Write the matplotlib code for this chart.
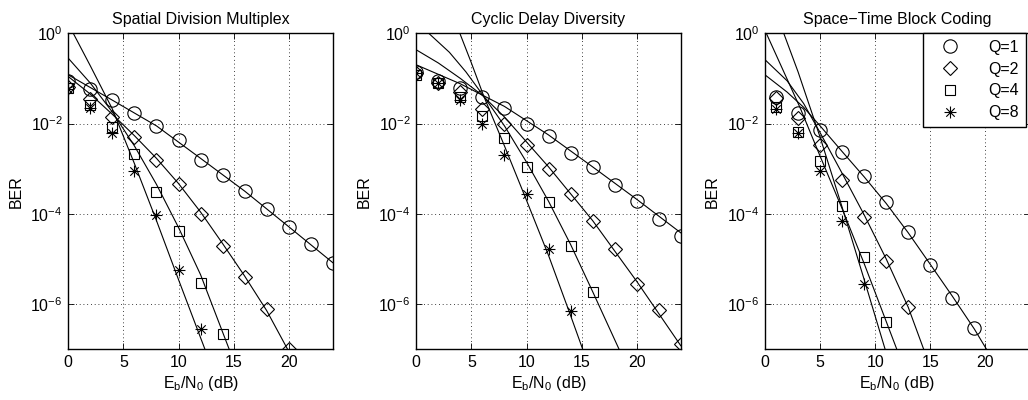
import matplotlib
matplotlib.use("Agg")
import matplotlib.pyplot as plt
from matplotlib.path import Path

plt.rcParams['font.family'] = ['Liberation Sans', 'DejaVu Sans']
plt.rcParams['mathtext.fontset'] = 'custom'
plt.rcParams['mathtext.rm'] = 'Liberation Sans'
plt.rcParams['mathtext.default'] = 'regular'
plt.rcParams['font.size'] = 11.5

titles = ["Spatial Division Multiplex", "Cyclic Delay Diversity", "Space\u2212Time Block Coding"]
labels = ["Q=1", "Q=2", "Q=4", "Q=8"]

# simulated points (markers)
sdm_snr = [0, 2, 4, 6, 8, 10, 12, 14, 16, 18, 20, 22, 24]
sdm_q1 = [8.7e-2, 5.8e-2, 3.3e-2, 1.7e-2, 8.9e-3, 4.3e-3, 1.6e-3, 7.4e-4, 3.2e-4, 1.3e-4, 5.2e-5, 2.1e-5, 8.3e-6]
sdm_q2 = [6.6e-2, 3.5e-2, 1.4e-2, 5.0e-3, 1.6e-3, 4.7e-4, 1.0e-4, 1.9e-5, 3.9e-6, 7.8e-7, 1.0e-7]
sdm_q4 = [6.0e-2, 2.6e-2, 8.5e-3, 2.1e-3, 3.1e-4, 4.1e-5, 3.0e-6, 2.2e-7]
sdm_q8 = [5.8e-2, 2.2e-2, 6.3e-3, 9.1e-4, 9.3e-5, 5.8e-6, 2.8e-7]

cdd_snr = [0, 2, 4, 6, 8, 10, 12, 14, 16, 18, 20, 22, 24]
cdd_q1 = [1.4e-1, 8.7e-2, 6.0e-2, 3.8e-2, 2.2e-2, 1.0e-2, 5.2e-3, 2.2e-3, 1.1e-3, 4.4e-4, 1.9e-4, 7.8e-5, 3.2e-5]
cdd_q2 = [1.3e-1, 7.8e-2, 5.0e-2, 2.1e-2, 1.0e-2, 3.4e-3, 1.0e-3, 2.7e-4, 7.1e-5, 1.7e-5, 2.8e-6, 7.4e-7, 1.3e-7]
cdd_q4 = [1.2e-1, 7.9e-2, 3.9e-2, 1.5e-2, 4.7e-3, 1.1e-3, 1.8e-4, 1.9e-5, 1.9e-6]
cdd_q8 = [1.3e-1, 7.8e-2, 3.3e-2, 1.0e-2, 2.0e-3, 2.8e-4, 1.7e-5, 7.1e-7]

stbc_snr = [1, 3, 5, 7, 9, 11, 13, 15, 17, 19]
stbc_q1 = [3.9e-2, 1.7e-2, 7.1e-3, 2.3e-3, 6.9e-4, 1.8e-4, 3.9e-5, 7.4e-6, 1.4e-6, 2.9e-7]
stbc_q2 = [3.6e-2, 1.3e-2, 3.3e-3, 5.5e-4, 8.5e-5, 9.1e-6, 8.7e-7]
stbc_q4 = [2.3e-2, 6.5e-3, 1.5e-3, 1.5e-4, 1.1e-5, 4.1e-7]
stbc_q8 = [2.1e-2, 6.2e-3, 9.1e-4, 7.1e-5, 2.8e-6]

# analytical curves (solid lines)
sdm_c1_x = [0, 4, 8, 12, 16, 20, 24]
sdm_c1 = [1.2e-1, 3.3e-2, 8.9e-3, 1.7e-3, 3.2e-4, 5.2e-5, 8.3e-6]
sdm_c2_x = [0, 2, 4, 6, 8, 10, 12, 14, 16, 18, 19.9]
sdm_c2 = [1.1e-1, 4.5e-2, 1.6e-2, 5.4e-3, 1.7e-3, 4.7e-4, 1.1e-4, 2.2e-5, 4.2e-6, 7.2e-7, 1.0e-7]
sdm_c4_x = [0, 2, 4, 6, 8, 10, 12, 14.6]
sdm_c4 = [2.8e-1, 7.9e-2, 1.8e-2, 3.2e-3, 4.5e-4, 5.0e-5, 4.5e-6, 1.0e-7]
sdm_c8_x = [0.45, 2, 4, 6, 8, 10, 12.4]
sdm_c8 = [1.0, 1.9e-1, 2.1e-2, 1.3e-3, 7.1e-5, 3.5e-6, 1.0e-7]

cdd_c1_x = [0, 4, 8, 12, 16, 20, 24]
cdd_c1 = [2.0e-1, 7.6e-2, 2.4e-2, 5.6e-3, 1.1e-3, 2.1e-4, 3.8e-5]
cdd_c2_x = [0, 2, 4, 6, 8, 12, 16, 20, 24]
cdd_c2 = [4.3e-1, 2.2e-1, 1.0e-1, 4.2e-2, 1.4e-2, 1.1e-3, 7.1e-5, 3.2e-6, 1.2e-7]
cdd_c4_x = [1.13, 3, 4.5, 6.13, 8, 10, 12, 14, 16, 18.4]
cdd_c4 = [1.0, 3.8e-1, 1.4e-1, 4.0e-2, 8.9e-3, 1.4e-3, 1.9e-4, 2.1e-5, 1.9e-6, 1.0e-7]
cdd_c8_x = [3.95, 5, 6.13, 8, 10, 12, 14, 15.1]
cdd_c8 = [1.0, 2.2e-1, 4.0e-2, 3.2e-3, 2.0e-4, 1.2e-5, 5.6e-7, 1.0e-7]

stbc_c1_x = [0, 2, 3.5, 5, 7, 9, 11, 13, 15, 17, 19, 20.1]
stbc_c1 = [1.2e-1, 5.0e-2, 2.3e-2, 8.9e-3, 2.4e-3, 6.6e-4, 1.7e-4, 3.8e-5, 7.6e-6, 1.5e-6, 2.8e-7, 1.0e-7]
stbc_c2_x = [0, 2, 3.5, 5, 7, 9, 11, 13, 14.4]
stbc_c2 = [2.6e-1, 8.9e-2, 2.8e-2, 6.3e-3, 7.9e-4, 9.5e-5, 1.0e-5, 8.5e-7, 1.0e-7]
stbc_c4_x = [0.12, 3.2, 5, 7, 9, 11.96]
stbc_c4 = [1.0, 2.2e-2, 1.9e-3, 1.3e-4, 7.9e-6, 1.0e-7]
stbc_c8_x = [1.7, 3, 5, 7, 9, 10.9]
stbc_c8 = [1.0, 1.4e-1, 5.0e-3, 1.4e-4, 3.5e-6, 1.0e-7]

# matlab style asterisk
star = Path([(-1, 0), (1, 0), (0, -1), (0, 1),
             (-0.707, -0.707), (0.707, 0.707), (-0.707, 0.707), (0.707, -0.707)],
            [Path.MOVETO, Path.LINETO] * 4)
markers = [('o', 9.6), ('D', 6.8), ('s', 7.6), (star, 8.6)]

panels = [
    (sdm_snr, [sdm_q1, sdm_q2, sdm_q4, sdm_q8],
     [(sdm_c1_x, sdm_c1), (sdm_c2_x, sdm_c2), (sdm_c4_x, sdm_c4), (sdm_c8_x, sdm_c8)]),
    (cdd_snr, [cdd_q1, cdd_q2, cdd_q4, cdd_q8],
     [(cdd_c1_x, cdd_c1), (cdd_c2_x, cdd_c2), (cdd_c4_x, cdd_c4), (cdd_c8_x, cdd_c8)]),
    (stbc_snr, [stbc_q1, stbc_q2, stbc_q4, stbc_q8],
     [(stbc_c1_x, stbc_c1), (stbc_c2_x, stbc_c2), (stbc_c4_x, stbc_c4), (stbc_c8_x, stbc_c8)]),
]

fig = plt.figure(figsize=(10.28, 4), dpi=100)
lefts = [68.3, 416.3, 765.0]

for i, (snr, pts, curves) in enumerate(panels):
    ax = fig.add_axes([lefts[i] / 1028, 50.7 / 400, 264.5 / 1028, 316 / 400])
    handles = []
    for (m, ms), y in zip(markers, pts):
        h, = ax.semilogy(snr[:len(y)], y, linestyle='none', marker=m, ms=ms,
                         mfc='none', mec='k', mew=0.8)
        handles.append(h)
    for cx, cy in curves:
        ax.semilogy(cx, cy, color='k', lw=0.8)
    ax.set_xlim(0, 24)
    ax.set_ylim(1e-7, 1)
    ax.set_xticks([0, 5, 10, 15, 20])
    ax.set_yticks([1, 1e-2, 1e-4, 1e-6])
    ax.minorticks_off()
    ax.tick_params(direction='in', top=True, right=True, length=4, width=0.6,
                   labelsize=11.5, pad=4)
    ax.grid(True, color='k', linestyle=(0, (1, 3.5)), lw=0.6)
    for s in ax.spines.values():
        s.set_linewidth(1.0)
    ax.set_title(titles[i], fontsize=11.5, pad=7)
    ax.set_ylabel('BER', fontsize=11.5, labelpad=5)
    ax.set_xlabel('E$_b$/N$_0$ (dB)', fontsize=11.5, labelpad=3)
    if i == 2:
        leg = ax.legend(handles, labels, loc='upper right', fontsize=11.5, numpoints=1,
                        fancybox=False, framealpha=1, edgecolor='k', borderaxespad=0.0,
                        bbox_to_anchor=(0.987, 1.0), handlelength=2.6, handletextpad=1.1,
                        labelspacing=0.42, borderpad=0.42)
        leg.get_frame().set_linewidth(1.0)

fig.savefig('out.png', dpi=100)
